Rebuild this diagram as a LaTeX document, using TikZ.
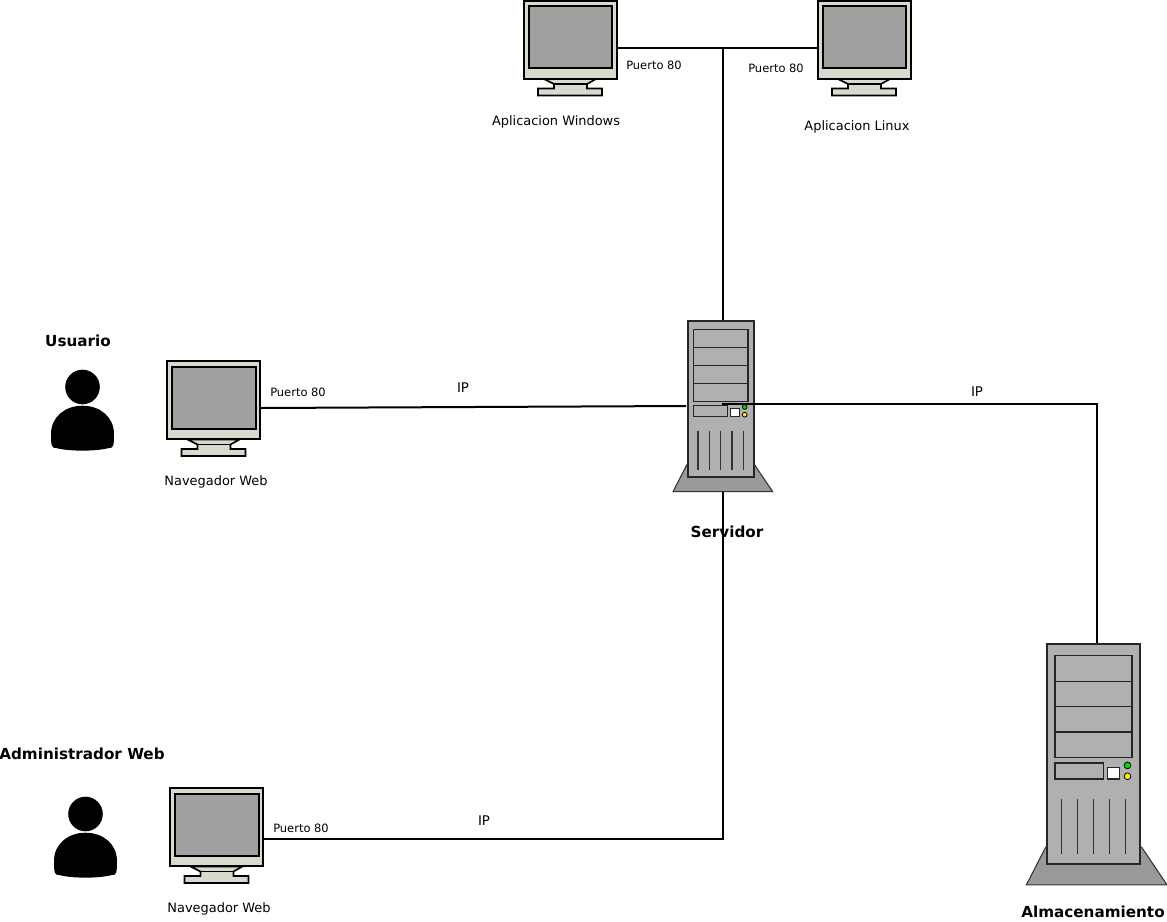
\documentclass[tikz,border=0pt]{standalone}
\usepackage{fontspec}
\setmainfont{DejaVu Sans}
\tikzset{
  x=0.75pt,y=-0.75pt,
  wire/.style={draw=black,line width=1.5pt},
  outlined/.style={draw=black,line width=1.5pt,line join=miter},
  thinoutlined/.style={draw=black!85,line width=1pt},
  lablabel/.style={font=\fontsize{8.6}{10}\selectfont,inner sep=0pt},
  captxt/.style={font=\fontsize{9.7}{11}\selectfont,inner sep=0pt},
  iptxt/.style={font=\fontsize{10}{11}\selectfont,inner sep=0pt},
  ttltxt/.style={font=\fontsize{11.4}{13}\selectfont\bfseries,inner sep=0pt},
  monitorbox/.style={rectangle,outlined,fill=monbeige,minimum width=69.75pt,minimum height=58.5pt,inner sep=0pt,outer sep=0.75pt},
  towerbox/.style={rectangle,draw=black!85,line width=1.5pt,fill=towergrey,minimum width=49.5pt,minimum height=117pt,inner sep=0pt,transform shape},
  monitorpic/.pic={
    \fill[monbeige,draw=black,line width=1.2pt] (22,79.5) -- (74,79.5) -- (65,84.5) -- (65,89) -- (80,89) -- (80,96) -- (16,96) -- (16,89) -- (32,89) -- (32,84.5) -- cycle;
    \draw[black,line width=1pt] (32,84.5) -- (65,84.5);
    \node[monitorbox] (-box) at (48.2,40) {};
    \fill[screengrey,draw=black,line width=1.5pt] (6.7,6.5) rectangle (90,68.5);
  },
  towerpic/.pic={
    \fill[basegrey,draw=black!80,line width=0.8pt] (0,145) -- (-13.7,171.7) -- (86,171.7) -- (68,145) -- cycle;
    \node[towerbox] (-box) at (34,79) {};
    \coordinate (-foot) at (34,171.7);
    \foreach \a/\b in {9.3/27.3,27.3/45.3,45.3/63.3,63.3/81.5}
      \draw[thinoutlined] (6.7,\a) rectangle (61.3,\b);
    \draw[thinoutlined] (6.7,85.3) rectangle (41,96.7);
    \draw[thinoutlined,fill=white] (44,88.7) rectangle (52.5,96.7);
    \draw[black,line width=0.6pt,fill=green!85!black] (58,87) circle (2.4);
    \draw[black,line width=0.6pt,fill=yellow] (58,94.7) circle (2.4);
    \foreach \v in {11.3,22.6,34,45.3,56.6}
      \draw[black!80,line width=0.9pt] (\v,110.7) -- (\v,150);
  },
  personpic/.pic={
    \fill[black] (31.5,17) circle (17.3);
    \fill[black] (0,64) .. controls (0,47) and (14,35.7) .. (31.5,35.7)
       .. controls (49,35.7) and (63,47) .. (63,64)
       .. controls (63,77) and (62,78) .. (58,78)
       .. controls (45,81.5) and (18,81.5) .. (5,78)
       .. controls (1,78) and (0,77) .. (0,64) -- cycle;
  }
}
\definecolor{monbeige}{HTML}{D9DACD}
\definecolor{screengrey}{HTML}{A0A0A0}
\definecolor{towergrey}{HTML}{B0B0B0}
\definecolor{basegrey}{HTML}{999999}
\begin{document}
\begin{tikzpicture}
\useasboundingbox (0,0) rectangle (1167,921);
\fill[white] (0,0) rectangle (1167,921);
% devices
\pic (win) at (522,-0.5) {monitorpic};
\pic (lin) at (816,-0.5) {monitorpic};
\pic (nav) at (165.5,360) {monitorpic};
\pic (adm) at (168.5,787) {monitorpic};
\pic (srv) at (686.7,320) {towerpic};
\pic[scale=1.41] (sto) at (1045.7,642.7) {towerpic};
\pic (userfig) at (51,370) {personpic};
\pic (adminfig) at (54,797) {personpic};
% texts
\node[lablabel] (p1) at (654,65) {Puerto 80};
\node[lablabel] (p2) at (776,68) {Puerto 80};
\node[lablabel] (p3) at (298,392) {Puerto 80};
\node[lablabel] (p4) at (301,828) {Puerto 80};
\node[captxt] (c1) at (556,122) {Aplicacion Windows};
\node[captxt] (c2) at (857,127) {Aplicacion Linux};
\node[captxt] (c3) at (216,482) {Navegador Web};
\node[captxt] (c4) at (219,909) {Navegador Web};
\node[ttltxt] (t1) at (78,341) {Usuario};
\node[ttltxt] (t2) at (82,754) {Administrador Web};
\node[ttltxt] (t3) at (727,532) {Servidor};
\node[ttltxt] (t4) at (1093,912) {Almacenamiento};
\node[iptxt] (ip1) at (463,388) {IP};
\node[iptxt] (ip2) at (977,392) {IP};
\node[iptxt] (ip3) at (484,821) {IP};
% connection points
\coordinate (j) at (723,48);
\coordinate (navport) at (261,408);
\coordinate (srvin) at (686,406);
\coordinate (srvout) at (722,404);
\coordinate (bend) at (1097,404);
\coordinate (admport) at (264,839);
% connectors
\draw[wire] (win-box.east |- j) -- (lin-box.west |- j);
\draw[wire] (j) -- (j |- srv-box.north);
\draw[wire] (navport) -- (srvin);
\draw[wire] (srvout) -- (bend) -- (bend |- sto-box.north);
\draw[wire] (j |- srv-foot) -- (j |- admport) -- (admport);
\end{tikzpicture}
\end{document}
